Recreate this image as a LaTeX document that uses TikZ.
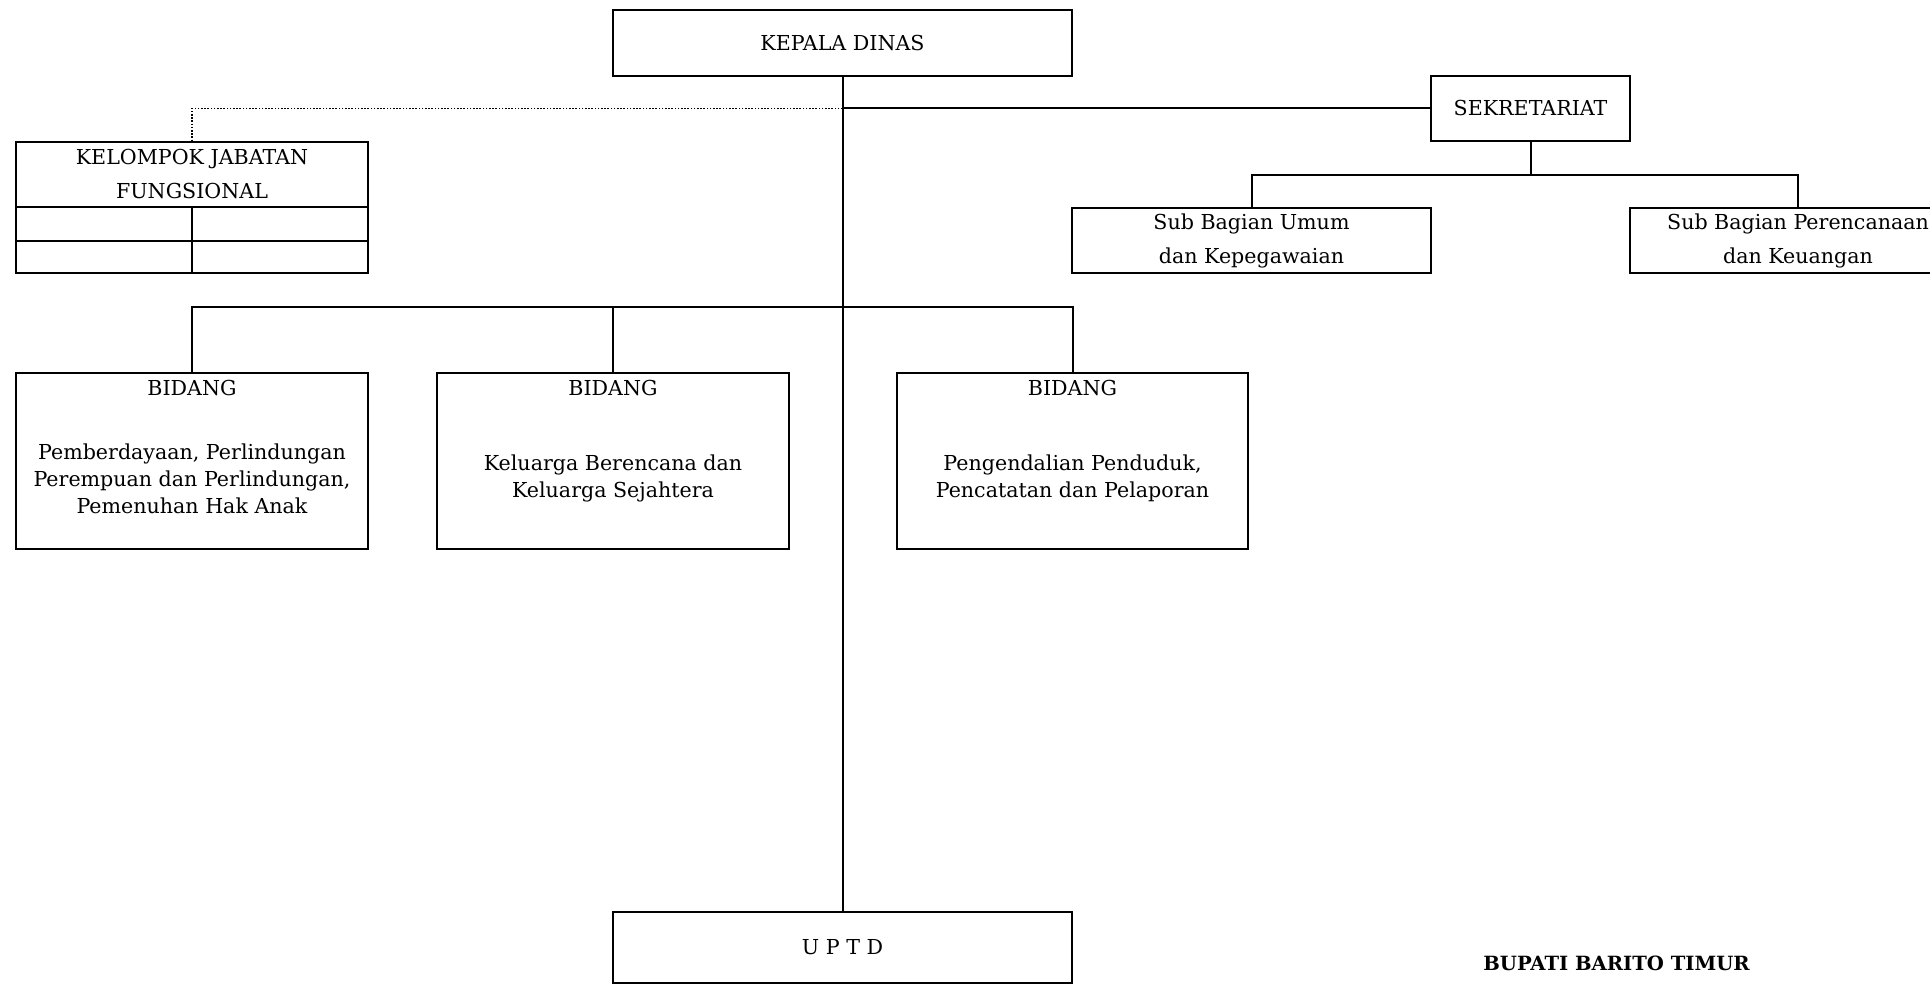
\documentclass[tikz,border=0pt]{standalone}
\usepackage{fontspec}
\setmainfont{DejaVu Serif}
\begin{document}
\begin{tikzpicture}[x=0.5pt,y=-0.5pt,
  box/.style={draw,line width=1pt,inner sep=0pt,align=center,font=\fontsize{10.3}{17}\selectfont},
  txt/.style={inner sep=0pt,align=center,font=\fontsize{10.3}{13.5}\selectfont},
  conn/.style={line width=1pt},
  dotline/.style={line width=0.8pt,dash pattern=on 0.8pt off 0.8pt}]
\useasboundingbox (0,0) rectangle (1930,984);

\node[box,minimum width=229.5pt,minimum height=33pt] (kd) at (842.5,43) {KEPALA DINAS};
\node[box,minimum width=99.5pt,minimum height=32.5pt] (sek) at (1530.5,108.5) {SEKRETARIAT};
\node[box,minimum width=179.5pt,minimum height=32.5pt] (sbu) at (1251.5,240.5) {Sub Bagian Umum\\dan Kepegawaian};
\node[box,minimum width=168pt,minimum height=32.5pt] (sbp) at (1798,240.5) {Sub Bagian Perencanaan\\dan Keuangan};

\node[box,minimum width=176pt,minimum height=32.5pt] (kjf) at (192,174.5) {KELOMPOK JABATAN\\FUNGSIONAL};
\node[box,minimum width=88pt,minimum height=17pt] (c11) at (104,224) {};
\node[box,minimum width=88pt,minimum height=17pt] (c12) at (280,224) {};
\node[box,minimum width=88pt,minimum height=16pt] (c21) at (104,257) {};
\node[box,minimum width=88pt,minimum height=16pt] (c22) at (280,257) {};

\node[box,minimum width=176pt,minimum height=88pt] (b1) at (192,461) {};
\node[box,minimum width=176pt,minimum height=88pt] (b2) at (613,461) {};
\node[box,minimum width=175.5pt,minimum height=88pt] (b3) at (1072.5,461) {};
\node[txt] (b1t) at (192,388) {BIDANG};
\node[txt] (b2t) at (613,388) {BIDANG};
\node[txt] (b3t) at (1072.5,388) {BIDANG};
\node[txt] (b1d) at (192,479) {Pemberdayaan, Perlindungan\\Perempuan dan Perlindungan,\\Pemenuhan Hak Anak};
\node[txt] (b2d) at (613,478) {Keluarga Berencana dan\\Keluarga Sejahtera};
\node[txt] (b3d) at (1072.5,478) {Pengendalian Penduduk,\\Pencatatan dan Pelaporan};

\node[box,minimum width=229.5pt,minimum height=35.5pt] (uptd) at (842.5,947) {U P T D};
\node[txt,anchor=west,font=\fontsize{9.8}{12}\selectfont\bfseries] (bup) at (1483,963) {BUPATI BARITO TIMUR};

\draw[conn] (kd.south) -- (uptd.north);
\draw[conn] (kd.south |- sek.west) -- (sek.west);
\draw[dotline] (kd.south |- sek.west) -| (kjf.north);

\coordinate (bl) at (192,306.5);
\draw[conn] (b1.north) -- (b1.north |- bl) -- (b3.north |- bl) -- (b3.north);
\draw[conn] (b2.north) -- (b2.north |- bl);

\coordinate (sj) at (1530.5,175);
\draw[conn] (sek.south) -- (sj);
\draw[conn] (sbu.north) -- (sbu.north |- sj) -- (sbp.north |- sj) -- (sbp.north);
\end{tikzpicture}
\end{document}
